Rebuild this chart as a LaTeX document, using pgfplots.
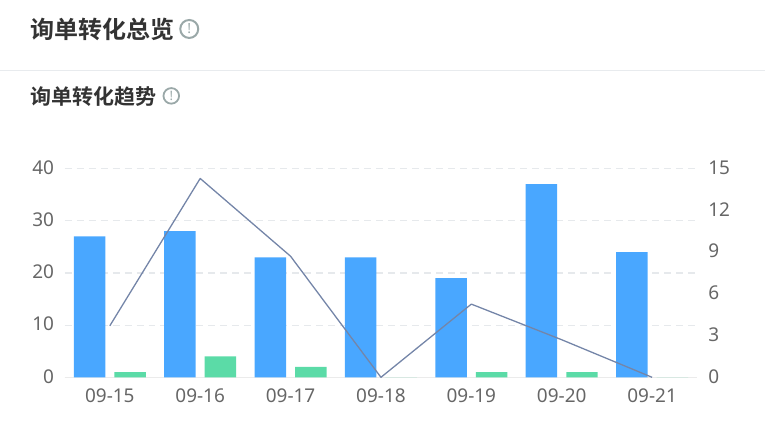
\documentclass[border=0pt]{standalone}
\usepackage{fontspec}
\usepackage{pgfplots}
\pgfplotsset{compat=1.18}
\setmainfont{Noto Sans}
\newfontfamily\cjk{Noto Sans CJK SC}[BoldFont={Noto Sans CJK SC Bold}]
\definecolor{blueb}{HTML}{49A7FF}
\definecolor{greenb}{HTML}{5BDBA7}
\definecolor{linec}{HTML}{5B7099}
\definecolor{gridc}{HTML}{E6E9EC}
\definecolor{axc}{HTML}{EBEBEB}
\definecolor{tickc}{HTML}{666666}
\definecolor{titlec}{HTML}{333333}
\definecolor{iconc}{HTML}{9AA8A8}
\pgfplotsset{
  common/.style={
    at={(64.2pt,51.2pt)}, anchor=south west,
    scale only axis, width=633.5pt, height=209pt,
    xmin=-0.5, xmax=6.5,
    tick style={draw=none},
    ticklabel style={font=\fontsize{19}{21}\selectfont, text=tickc},
    /pgf/number format/assume math mode=true,
    clip=false,
  }
}
\begin{document}
\begin{tikzpicture}[x=1pt,y=1pt]
\path (0,0) rectangle (765,429);
\draw[color=gridc!90!white, line width=1pt] (0,358) -- (765,358);
\node[anchor=west, inner sep=0pt, text=titlec] at (30,399.5) {\cjk\fontsize{24}{26}\selectfont\bfseries 询单转化总览};
\node[anchor=west, inner sep=0pt, text=titlec] at (30,332.5) {\cjk\fontsize{21}{24}\selectfont\bfseries 询单转化趋势};
\draw[iconc, line width=2pt] (189,400) circle (9);
\node[text=iconc, inner sep=0pt] at (189,400) {\fontsize{14}{15}\selectfont\bfseries !};
\draw[iconc, line width=1.8pt] (171,333) circle (7.8);
\node[text=iconc, inner sep=0pt] at (171,333) {\fontsize{13}{14}\selectfont\bfseries !};
\begin{axis}[common,
  axis y line*=left, axis x line*=bottom,
  axis line style={draw=axc, line width=1.4pt, -},
  y axis line style={draw=none},
  ymin=0, ymax=40, ytick={0,10,20,30,40},
  yticklabel style={xshift=-7pt, yshift=1pt},
  xtick={0,1,2,3,4,5,6},
  xticklabels={09-15,09-16,09-17,09-18,09-19,09-20,09-21},
  xticklabel style={yshift=-4pt},
  ymajorgrids, grid style={draw=gridc, line width=1.2pt, dash pattern=on 7pt off 5pt},
  ybar, bar width=31.5pt,
]
\addplot[fill=blueb, draw=none, bar shift=-20.3pt] coordinates {(0,27) (1,28) (2,23) (3,23) (4,19) (5,37) (6,24)};
\addplot[fill=greenb, draw=none, bar shift=20.3pt] coordinates {(0,1) (1,4) (2,2) (3,0) (4,1) (5,1) (6,0)};
\end{axis}
\begin{axis}[common,
  axis y line*=right, axis x line=none,
  y axis line style={draw=none},
  ymin=0, ymax=15, ytick={0,3,6,9,12,15},
  yticklabel style={xshift=7.5pt, yshift=1pt},
]
\addplot[color=linec!85!white, line width=1.3pt, mark=none, line join=round] coordinates {(0,3.7) (1,14.29) (2,8.7) (3,0) (4,5.26) (5,2.7) (6,0)};
\end{axis}
\end{tikzpicture}
\end{document}
